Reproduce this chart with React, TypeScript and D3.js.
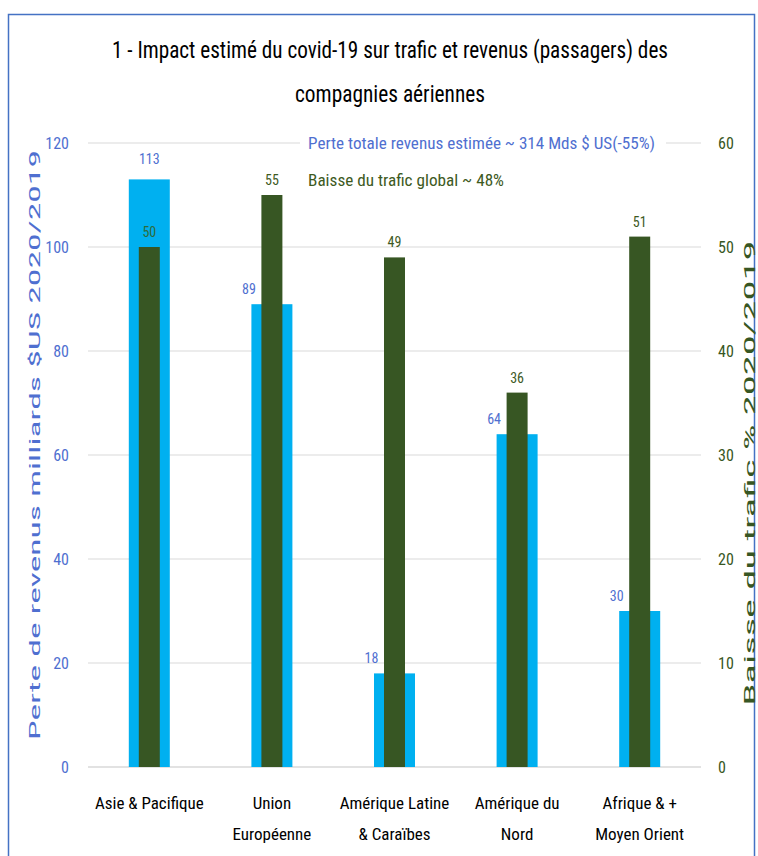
import React from 'react';
import * as d3 from 'd3';

const categories = [
  ['Asie & Pacifique'],
  ['Union', 'Européenne'],
  ['Amérique Latine', '& Caraïbes'],
  ['Amérique du', 'Nord'],
  ['Afrique & +', 'Moyen Orient'],
];
const revenueLoss = [113, 89, 18, 64, 30];
const trafficDrop = [50, 55, 49, 36, 51];
const leftTicks = [0, 20, 40, 60, 80, 100, 120];
const rightTicks = [0, 10, 20, 30, 40, 50, 60];

const titleLines = [
  '1 - Impact estimé du covid-19 sur trafic et revenus (passagers) des',
  'compagnies aériennes',
];
const legendRevenue = 'Perte totale revenus estimée ~ 314 Mds $ US(-55%)';
const legendTraffic = 'Baisse du trafic global  ~ 48%';
const leftTitle = 'Perte de revenus milliards $US  2020/2019';
const rightTitle = 'Baisse du trafic % 2020/2019';

const FONT = '"Liberation Sans Narrow", "Roboto Condensed", "Liberation Sans", sans-serif';
const BLUE = '#00B0F0';
const GREEN = '#375623';
const BLUE_TEXT = '#4F6FD0';
const GREEN_TEXT = '#3E5A1E';

const W = 758;
const H = 856;
const plot = { left: 88, right: 701, top: 143, bottom: 767 };

export default function App() {
  const x = d3
    .scaleBand<number>()
    .domain(d3.range(categories.length))
    .range([plot.left, plot.right]);
  const yLeft = d3.scaleLinear().domain([0, 120]).range([plot.bottom, plot.top]);
  const yRight = d3.scaleLinear().domain([0, 60]).range([plot.bottom, plot.top]);

  const blueW = 41;
  const greenW = 21;

  return (
    <svg
      width={W}
      height={H}
      style={{ position: 'absolute', left: 0, top: 0, background: '#fff' }}
      fontFamily={FONT}
    >
      <rect x={0} y={0} width={W} height={H} fill="#fff" />
      {/* frame */}
      <path d={`M8.5,${H} V14.5 H${W - 3.5} V${H}`} fill="none" stroke="#4472C4" strokeWidth={1.5} />

      {/* title */}
      {titleLines.map((t, i) => (
        <text
          key={i}
          x={390}
          y={58 + i * 44}
          textAnchor="middle"
          fontSize={23}
          fill="#000"
          textLength={i === 0 ? 556 : 190}
          lengthAdjust="spacingAndGlyphs"
        >
          {t}
        </text>
      ))}

      {/* gridlines */}
      {leftTicks.map((t) => (
        <line
          key={t}
          x1={plot.left}
          x2={plot.right}
          y1={yLeft(t)}
          y2={yLeft(t)}
          stroke="#D9D9D9"
          strokeWidth={t === 0 ? 1.5 : 1.2}
        />
      ))}

      {/* left ticks */}
      {leftTicks.map((t) => (
        <text key={t} x={69} y={yLeft(t) + 6} textAnchor="end" fontSize={16} fill={BLUE_TEXT}>
          {t}
        </text>
      ))}
      {/* right ticks */}
      {rightTicks.map((t) => (
        <text key={t} x={718} y={yRight(t) + 6} textAnchor="start" fontSize={16} fill={GREEN}>
          {t}
        </text>
      ))}

      {/* axis titles */}
      <text
        transform="translate(40,445) rotate(-90)"
        textAnchor="middle"
        fontSize={15}
        fill="#4F6FD0"
        textLength={590}
        lengthAdjust="spacingAndGlyphs"
      >
        {leftTitle}
      </text>
      <text
        transform="translate(755,473) rotate(-90)"
        textAnchor="middle"
        fontSize={15}
        fill={GREEN}
        textLength={465}
        lengthAdjust="spacingAndGlyphs"
      >
        {rightTitle}
      </text>

      {/* bars */}
      {categories.map((_, i) => {
        const cx = (x(i) as number) + x.bandwidth() / 2;
        const bTop = yLeft(revenueLoss[i]);
        const gTop = yRight(trafficDrop[i]);
        const blueAbove = bTop < gTop;
        return (
          <g key={i}>
            <rect x={cx - blueW / 2} y={bTop} width={blueW} height={plot.bottom - bTop} fill={BLUE} />
            <rect x={cx - greenW / 2} y={gTop} width={greenW} height={plot.bottom - gTop} fill={GREEN} />
            <text
              x={blueAbove ? cx : cx - 23}
              y={bTop - (blueAbove ? 15 : 10)}
              textAnchor="middle"
              fontSize={14}
              fill={BLUE_TEXT}
            >
              {revenueLoss[i]}
            </text>
            <text
              x={cx}
              y={gTop - 10}
              textAnchor="middle"
              fontSize={14}
              fill={i === 0 ? '#2E6B3A' : GREEN_TEXT}
            >
              {trafficDrop[i]}
            </text>
          </g>
        );
      })}

      {/* legend */}
      <rect x={300} y={130} width={366} height={58} fill="#fff" />
      <text x={308} y={149} fontSize={17} fill={BLUE_TEXT} textLength={347} lengthAdjust="spacingAndGlyphs">
        {legendRevenue}
      </text>
      <text x={308} y={186} fontSize={17} fill={GREEN_TEXT} textLength={196} lengthAdjust="spacingAndGlyphs">
        {legendTraffic}
      </text>

      {/* category labels */}
      {categories.map((lines, i) => {
        const cx = (x(i) as number) + x.bandwidth() / 2;
        return lines.map((l, j) => (
          <text key={`${i}-${j}`} x={cx} y={809 + j * 31} textAnchor="middle" fontSize={17} fill="#000">
            {l}
          </text>
        ));
      })}
    </svg>
  );
}
